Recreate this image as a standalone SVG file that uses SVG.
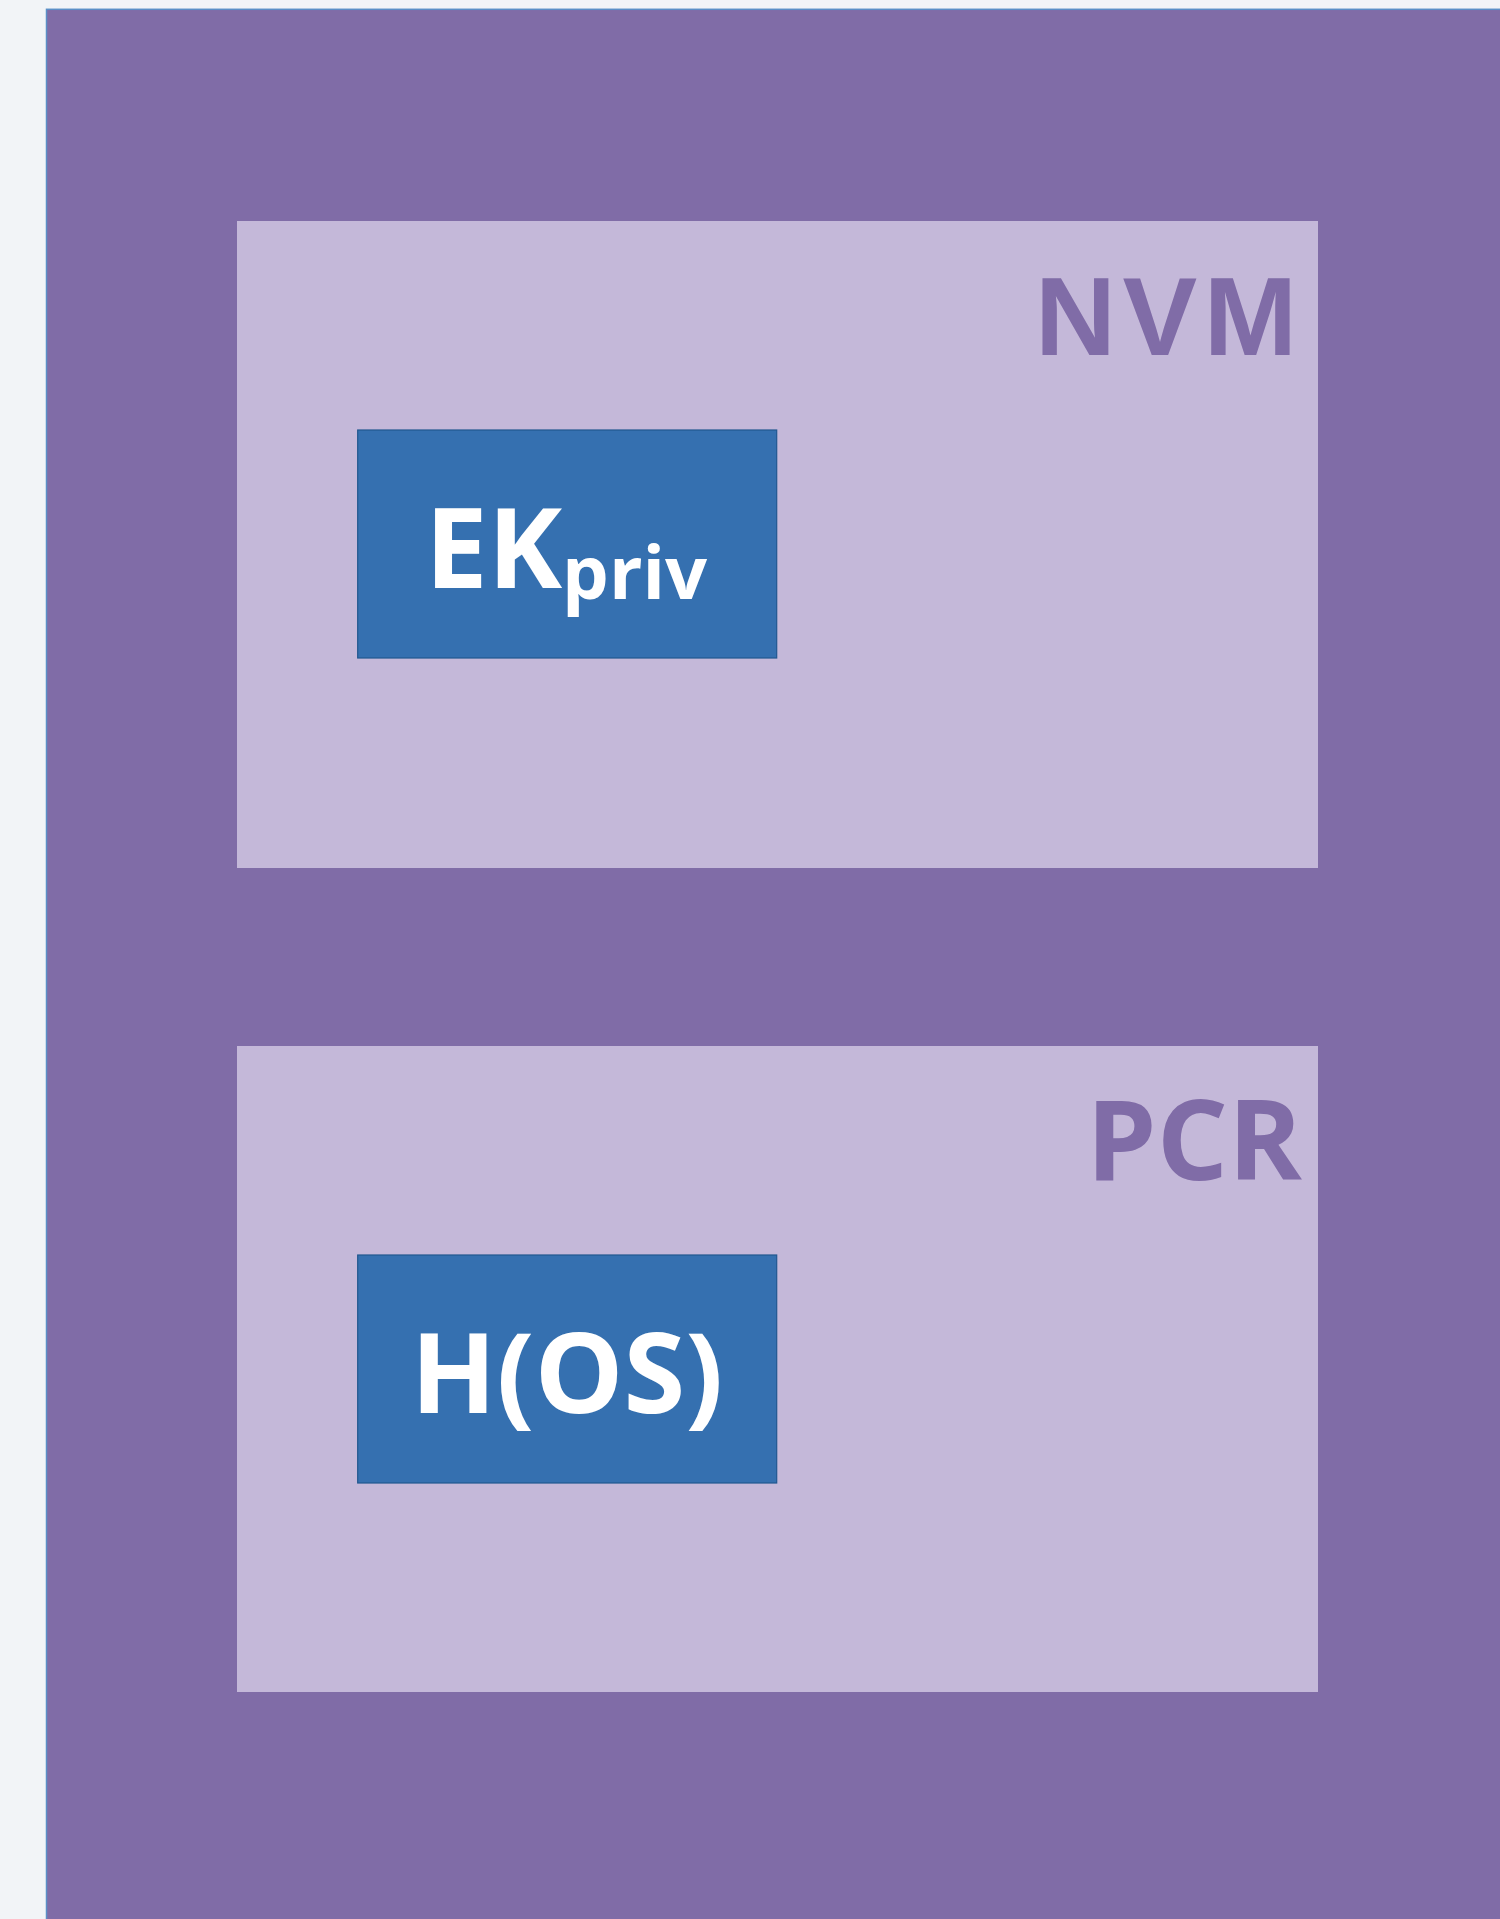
<svg xmlns="http://www.w3.org/2000/svg" width="1500" height="1919" viewBox="0 0 1500 1919">
<style>
.outer{fill:#806ca7;stroke:#5b8fc7;stroke-width:1.5}
.mem{fill:#c4b8d9}
.key{fill:#3570b0;stroke:#21578f;stroke-width:1.2}
.lbl{font-family:"Open Sans","Liberation Sans",sans-serif;font-weight:bold;fill:#806ca7;font-size:112px}
.nvm{font-family:"Liberation Sans",Arial,sans-serif;font-weight:bold;fill:#806ca7;font-size:112px}
.kt{font-family:"Open Sans","Liberation Sans",sans-serif;font-weight:bold;fill:#ffffff;font-size:112px}
</style>
<rect x="0" y="0" width="1500" height="1919" fill="#f2f4f7"/>
<g id="tpm">
<rect class="outer" x="46.5" y="9.3" width="1460" height="1920"/>
</g>
<g id="nvm">
<rect class="mem" x="237" y="221" width="1081" height="647"/>
<text class="nvm" x="1035" y="355" textLength="262" lengthAdjust="spacing">NVM</text>
</g>
<g id="ekpriv">
<rect class="key" x="357.7" y="430" width="419" height="228"/>
<text class="kt" x="425" y="588">EK<tspan font-size="74" dy="11">priv</tspan></text>
</g>
<g id="pcr">
<rect class="mem" x="237" y="1046" width="1081" height="646"/>
<text class="lbl" x="1302" y="1180" text-anchor="end">PCR</text>
</g>
<g id="hos">
<rect class="key" x="357.7" y="1255" width="419" height="228"/>
<text class="kt" x="567" y="1413" text-anchor="middle">H(OS)</text>
</g>
<g id="connectors"/>
</svg>
